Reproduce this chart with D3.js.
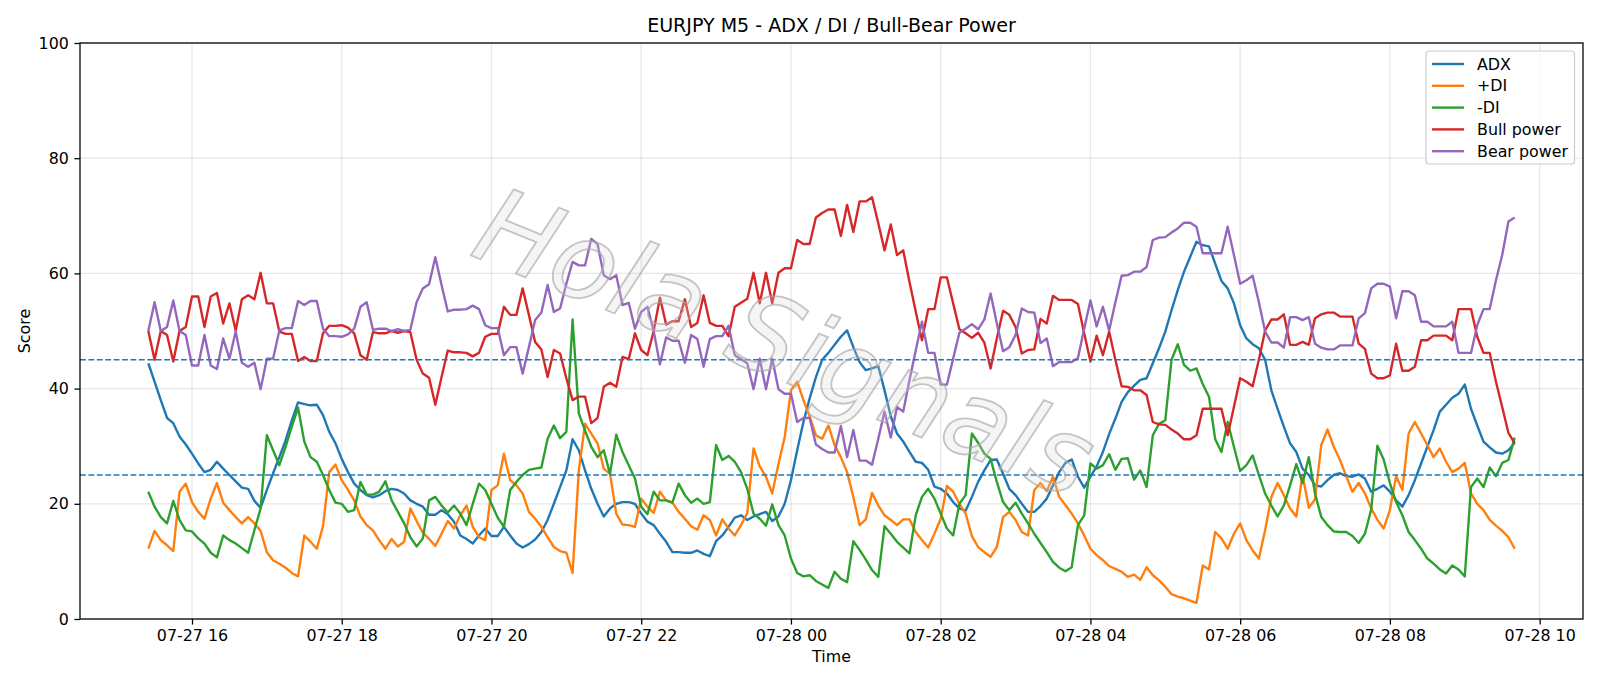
<!DOCTYPE html>
<html>
<head>
<meta charset="utf-8">
<script src="https://cdn.jsdelivr.net/npm/d3@7"></script>
<style>
  html, body { margin: 0; padding: 0; background: #ffffff; }
  svg { display: block; }
  text { font-family: "DejaVu Sans", sans-serif; fill: #000; }
</style>
</head>
<body>
<svg id="chart" width="1600" height="686"></svg>
<script>
// ---------------- DATA ----------------
const titleText = "EURJPY M5 - ADX / DI / Bull-Bear Power";
const xLabel = "Time";
const yLabel = "Score";
const watermarkText = "Hola Signals";
const startTime = Date.UTC(2023, 6, 27, 15, 25);   // first bar 07-27 15:25
const stepMinutes = 5;                               // M5 bars
const yTicks = [0, 20, 40, 60, 80, 100];
const thresholds = [45, 25];
const seriesNames = ["ADX", "+DI", "-DI", "Bull power", "Bear power"];
const seriesColors = ["#1f77b4", "#ff7f0e", "#2ca02c", "#d62728", "#9467bd"];

const adx = [
  44.4, 41.2, 38, 34.9, 34, 31.7, 30.3, 28.7, 27, 25.5, 25.9, 27.3, 26.1, 25, 23.9, 22.8, 22.6, 20.5, 19.3, 22.4,
  25.3, 28.1, 31, 34.5, 37.6, 37.3, 37.1, 37.2, 35.4, 32.5, 30.5, 27.8, 25.5, 23.5, 22.4, 21.5, 21.1, 21.5, 22.2,
  22.6, 22.4, 21.8, 20.6, 20, 19.5, 18.1, 18.1, 18.9, 18.2, 16.9, 14.5, 13.9, 13.1, 14.5, 15.7, 14.4, 14.4, 16, 14.5,
  13.1, 12.4, 13, 13.8, 15.1, 17.2, 20, 22.9, 25.8, 31.2, 29.3, 25.8, 22.6, 20, 17.8, 19.2, 20, 20.3, 20.3, 20, 18.3,
  16.9, 16.3, 14.8, 13.4, 11.6, 11.6, 11.5, 11.5, 11.9, 11.3, 10.9, 13.5, 14.5, 16, 17.6, 18, 17.2, 17.8, 18.2, 18.6,
  17, 17.8, 20, 24.1, 29.3, 34.2, 38.3, 42, 45, 46.2, 47.6, 49, 50.1, 47.2, 44.6, 43.2, 43.5, 43.9, 39.7, 35.2,
  32.2, 30.8, 29, 27.3, 27.1, 25.9, 23, 22.6, 21.8, 20.3, 19.2, 18.8, 21.2, 23.8, 25.8, 27.6, 27.7, 25.2, 22.6, 21.5,
  20, 18.6, 18.6, 19.6, 20.9, 23.2, 25.5, 27.1, 27.7, 24.7, 22.8, 24.7, 26.5, 29, 32.1, 34.8, 37.7, 39.4, 40.5, 41.5,
  41.8, 44.4, 47, 49.9, 53.6, 57.1, 60.3, 62.9, 65.5, 64.9, 64.7, 61.7, 58.7, 57.4, 54.8, 51, 48.7, 47.7, 47, 45,
  39.7, 36.5, 33.4, 30.5, 29, 26.1, 25, 23.2, 23, 24.1, 25, 25.3, 24.8, 24.7, 25.1, 24.4, 22.1, 22.6, 23.2, 22.1,
  20.6, 19.5, 21.5, 24.1, 27, 29.9, 32.8, 36, 37.2, 38.4, 39.1, 40.7, 36.5, 33.6, 30.8, 29.8, 28.9, 28.7, 29.3, 30.6
];

const plusDI = [
  12.2, 15.3, 13.7, 12.8, 11.8, 22.1, 23.5, 20.3, 18.6, 17.4, 20.9, 23.6, 20.2, 18.9, 17.7, 16.6, 17.7, 16.6, 15.3, 11.6,
  10.2, 9.6, 8.9, 8, 7.4, 14.5, 13.4, 12.2, 16.1, 25.5, 26.8, 24.1, 22.4, 20.6, 17.8, 16.3, 15.4, 13.7, 12.2,
  13.9, 12.6, 13.4, 19.2, 17, 15, 13.9, 12.7, 14.8, 17, 15.7, 18, 19.7, 16, 14.2, 13.7, 22.4, 23.2, 28.7, 24.1,
  23.2, 21.8, 18.6, 17.4, 16, 14.2, 12.5, 11.8, 11.5, 8, 25.8, 33.9, 32.2, 30.5, 26.1, 25.2, 18.3, 16.4, 16.3, 16, 20.9,
  19.5, 18.4, 22.1, 20.6, 20.2, 18.6, 17.4, 16.1, 15.5, 18, 17.2, 14.5, 17.3, 15.7, 14.5, 16.3, 18.4, 29.6, 26.5, 24.7,
  21.8, 26.9, 31.6, 39.7, 41.2, 38, 35.2, 31.9, 31.3, 33.6, 30.2, 28.1, 25.5, 21.2, 16.3, 17.3, 21.9, 19.7, 18, 17.2,
  16.3, 17.3, 17.3, 15.1, 13.7, 12.4, 14.8, 17.4, 23.1, 22.1, 20, 18.3, 14.4, 12.5, 11.6, 10.8, 12.5, 17.7, 18.6, 17.2,
  15.1, 14.5, 22.4, 23.6, 22.2, 24.7, 21.2, 19.8, 18.3, 16.6, 14.5, 12.2, 11.1, 10.2, 9.2, 8.7, 8.2, 7.3, 7.7, 6.8,
  9, 7.6, 6.7, 5.6, 4.3, 3.9, 3.6, 3.2, 2.8, 9.3, 8.6, 15.1, 14, 12.2, 14.8, 16.6, 13.7, 11.9, 10.5, 15.4,
  21.2, 23.6, 21.5, 19.2, 17.8, 25, 19.3, 20.8, 30.2, 32.9, 29.9, 27.6, 24.8, 22.1, 23.6, 21.8, 19.2, 17.2, 15.7, 18.9,
  24.8, 22.4, 32.2, 34.2, 32.2, 30.2, 28.1, 29.6, 27.3, 25.5, 26.1, 27.1, 21.8, 20, 18.9, 17.2, 16.2, 15.3, 14.2, 12.2
];

const minusDI = [
  22.1, 19.5, 17.7, 16.6, 20.5, 17.2, 15.4, 15.2, 14, 13.1, 11.5, 10.7, 14.5, 13.7, 13.1, 12.3, 11.5, 15.4, 19.2, 31.9,
  29.3, 26.7, 29.9, 33.4, 36.7, 30.8, 28.1, 27.3, 25, 22.4, 20.2, 20, 18.6, 18.9, 23.8, 21.6, 21.6, 22.1, 23.9,
  20.6, 18.6, 16.6, 14.2, 12.6, 14, 20.6, 21.2, 19.7, 18.5, 19.7, 18.3, 16.3, 20, 23.5, 22.4, 20, 17.6, 16, 22.4,
  23.8, 25, 25.9, 26.1, 26.3, 31.3, 33.6, 31.4, 32.5, 52, 35.7, 32.7, 29.9, 28.1, 29.3, 25.2, 32, 29, 26.7, 24.4, 19.5,
  18.2, 22.1, 20.6, 20.6, 20.2, 23.5, 21.5, 20.2, 20.9, 20, 20.3, 30.2, 27.6, 28.3, 27.3, 25.5, 22.6, 18.3, 17.4, 16.2,
  19.9, 16.3, 14.5, 10.5, 8, 7.4, 7.6, 6.6, 6, 5.4, 8.2, 7, 6.4, 13.5, 12, 10.3, 8.5, 7.3, 16.1, 14.8,
  13.4, 12.4, 11.4, 18, 21.2, 22.6, 20.9, 18.3, 15.7, 14.5, 20, 21.5, 32.2, 30.6, 28.7, 27.8, 23.8, 20.3, 18.9, 20.2,
  18.3, 16.6, 14.8, 13.2, 11.6, 9.9, 8.9, 8.3, 9, 16.3, 18, 27, 26.1, 26.7, 28.6, 25.9, 27.8, 27.9, 24.2, 25.8,
  22.9, 31.9, 33.9, 34.5, 45, 47.7, 44.1, 43.1, 43.5, 40.8, 38.6, 31.2, 29, 34.2, 29.9, 25.7, 26.7, 28.4, 25, 21.8,
  19.7, 17.8, 19.7, 23.2, 26.9, 23.6, 28.1, 21.8, 17.7, 16.3, 15.2, 15.1, 15.1, 14.4, 13.2, 14.8, 19, 30.1, 27.7, 23.6,
  20.3, 18, 15.1, 13.7, 12.2, 10.5, 9.6, 8.6, 7.9, 9.3, 8.6, 7.4, 22.9, 24.4, 22.9, 26.3, 24.8, 27.1, 27.6, 31.5
];

const bullPower = [
  50, 45, 50, 49.3, 44.7, 50, 50.7, 56, 56, 50.7, 56, 56.6, 51.3, 54.8, 50.1, 55.5, 56.2, 55.5, 60.1, 54.8,
  54.8, 49.9, 49.5, 49.5, 44.8, 45.5, 44.8, 44.8, 49.6, 50.9, 50.9, 51, 50.6, 49.6, 45.8, 45, 49.8, 49.6, 49.6,
  50, 49.7, 50, 49.8, 45, 42.6, 41.9, 37.2, 42, 46.6, 46.3, 46.3, 46.2, 45.6, 46.2, 49, 49.5, 49.5, 54.2, 52.8,
  52.8, 57.4, 52.8, 48.1, 46.8, 42, 46.7, 46.1, 41.8, 38, 38.6, 38.6, 34, 34.9, 40.3, 41, 40.3, 45.5, 45.1, 49.6, 46.7,
  45.8, 50, 55.8, 51.1, 51.7, 51.7, 55.5, 50.7, 51.4, 56.2, 51.4, 50.9, 50.9, 49.1, 54.2, 54.9, 55.6, 60.1, 54.8, 60.1,
  54.8, 60.1, 60.9, 60.9, 65.8, 65.1, 65.1, 69.7, 70.5, 71.1, 71.1, 66.5, 71.9, 67.2, 72.5, 72.5, 73.2, 68.7, 64, 68.5,
  63.2, 64, 58.5, 53.4, 48.4, 53.8, 53.8, 59.3, 59.3, 54.8, 50.3, 49.6, 48.8, 49.7, 48, 43.5, 48.7, 53.5, 52.8, 50.7,
  46.1, 46.7, 46.8, 52.1, 51.3, 56.1, 55.4, 55.4, 55.4, 54.7, 49.6, 44.7, 49.2, 45.8, 49.9, 45, 40.4, 40.3, 39.7, 39.7,
  38.9, 34.2, 33.8, 33.7, 32.9, 32.2, 31.2, 31.2, 31.9, 36.5, 36.5, 36.5, 36.5, 31.9, 36.8, 41.8, 41.2, 40.4, 45, 50.1,
  52, 52, 52.9, 47.6, 47.6, 48.1, 47.6, 52.2, 52.9, 53.2, 53.2, 52.5, 52.5, 52.5, 47.8, 46.9, 42.6, 41.8, 41.8, 42.3,
  47.8, 43.1, 43.1, 43.8, 48.4, 48.4, 49.2, 49.2, 49.2, 48.4, 53.8, 53.8, 53.8, 49, 46.2, 46.2, 41.2, 36.8, 32.3, 30.5
];

const bearPower = [
  50, 55, 50, 50.7, 55.3, 50, 49.3, 44, 44, 49.3, 44, 43.4, 48.7, 45.2, 49.9, 44.5, 43.8, 44.5, 39.9, 45.2,
  45.2, 50.1, 50.5, 50.5, 55.2, 54.5, 55.2, 55.2, 50.4, 49.1, 49.1, 49, 49.4, 50.4, 54.2, 55, 50.2, 50.4, 50.4,
  50, 50.3, 50, 50.2, 55, 57.4, 58.1, 62.8, 58, 53.4, 53.7, 53.7, 53.8, 54.4, 53.8, 51, 50.5, 50.5, 45.8, 47.2,
  47.2, 42.6, 47.2, 51.9, 53.2, 58, 53.3, 53.9, 58.2, 62, 61.4, 61.4, 66, 65.1, 59.7, 59, 59.7, 54.5, 54.9, 50.4, 53.3,
  54.2, 50, 44.2, 48.9, 48.3, 48.3, 44.5, 49.3, 48.6, 43.8, 48.6, 49.1, 49.1, 50.9, 45.8, 45.1, 44.4, 39.9, 45.2, 39.9,
  45.2, 39.9, 39.1, 39.1, 34.2, 34.9, 34.9, 30.3, 29.5, 28.9, 28.9, 33.5, 28.1, 32.8, 27.5, 27.5, 26.8, 31.3, 36, 31.5,
  36.8, 36, 41.5, 46.6, 51.6, 46.2, 46.2, 40.7, 40.7, 45.2, 49.7, 50.4, 51.2, 50.3, 52, 56.5, 51.3, 46.5, 47.2, 49.3,
  53.9, 53.3, 53.2, 47.9, 48.7, 43.9, 44.6, 44.6, 44.6, 45.3, 50.4, 55.3, 50.8, 54.2, 50.1, 55, 59.6, 59.7, 60.3, 60.3,
  61.1, 65.8, 66.2, 66.3, 67.1, 67.8, 68.8, 68.8, 68.1, 63.5, 63.5, 63.5, 63.5, 68.1, 63.2, 58.2, 58.8, 59.6, 55, 49.9,
  48, 48, 47.1, 52.4, 52.4, 51.9, 52.4, 47.8, 47.1, 46.8, 46.8, 47.5, 47.5, 47.5, 52.2, 53.1, 57.4, 58.2, 58.2, 57.7,
  52.2, 56.9, 56.9, 56.2, 51.6, 51.6, 50.8, 50.8, 50.8, 51.6, 46.2, 46.2, 46.2, 51, 53.8, 53.8, 58.8, 63.2, 69, 69.7
];

// ---------------- LAYOUT ----------------
const W = 1600, H = 686;
const plot = { left: 80, right: 1583, top: 43, bottom: 619 };
const PT = 114.29 / 72;              // px per point (figure dpi ~114)
const fs = 10 * PT;                  // 10pt text
const svg = d3.select("#chart");

const series = [adx, plusDI, minusDI, bullPower, bearPower];
const times = adx.map((_, i) => new Date(startTime + i * stepMinutes * 60000));

const t0 = +times[0], t1 = +times[times.length - 1];
const pad = (t1 - t0) * 0.05;
const x = d3.scaleUtc().domain([new Date(t0 - pad), new Date(t1 + pad)]).range([plot.left, plot.right]);
const y = d3.scaleLinear().domain([0, 100]).range([plot.bottom, plot.top]);

const xTickVals = d3.utcHour.every(2).range(x.domain()[0], x.domain()[1]);
const fmt = d3.utcFormat("%m-%d %H");

// grid
const grid = svg.append("g");
grid.selectAll(".gx").data(xTickVals).join("line")
  .attr("x1", d => x(d)).attr("x2", d => x(d))
  .attr("y1", plot.top).attr("y2", plot.bottom)
  .attr("stroke", "#b0b0b0").attr("stroke-opacity", 0.3).attr("stroke-width", 0.8 * PT);
grid.selectAll(".gy").data(yTicks).join("line")
  .attr("x1", plot.left).attr("x2", plot.right)
  .attr("y1", d => y(d)).attr("y2", d => y(d))
  .attr("stroke", "#b0b0b0").attr("stroke-opacity", 0.3).attr("stroke-width", 0.8 * PT);

// series lines
const line = d3.line().x((d, i) => x(times[i])).y(d => y(d));
const linesG = svg.append("g");
series.forEach((s, k) => {
  linesG.append("path").datum(s)
    .attr("d", line)
    .attr("fill", "none")
    .attr("stroke", seriesColors[k])
    .attr("stroke-width", 1.5 * PT)
    .attr("stroke-linejoin", "round")
    .attr("stroke-linecap", "butt");
});

// threshold dashed lines
svg.append("g").selectAll("line").data(thresholds).join("line")
  .attr("x1", plot.left).attr("x2", plot.right)
  .attr("y1", d => y(d)).attr("y2", d => y(d))
  .attr("stroke", "#1f77b4").attr("stroke-width", 1 * PT)
  .attr("stroke-dasharray", `${3.7 * PT},${1.6 * PT}`);

// watermark
svg.append("text")
  .attr("transform", "translate(782,350) rotate(22)")
  .attr("text-anchor", "middle")
  .attr("dominant-baseline", "middle")
  .style("font-family", "'DejaVu Sans', sans-serif")
  .style("font-style", "italic")
  .style("font-size", "106px")
  .style("fill", "#d8d8d8")
  .style("fill-opacity", 0.25)
  .style("stroke", "#a8a8a8")
  .style("stroke-width", "1.8px")
  .style("stroke-opacity", 0.65)
  .text(watermarkText);

// axes frame
svg.append("rect")
  .attr("x", plot.left).attr("y", plot.top)
  .attr("width", plot.right - plot.left).attr("height", plot.bottom - plot.top)
  .attr("fill", "none").attr("stroke", "#000").attr("stroke-width", 0.8 * PT);

// x axis
const xAxis = d3.axisBottom(x).tickValues(xTickVals).tickFormat(fmt)
  .tickSize(3.5 * PT).tickPadding(3.5 * PT);
const gx = svg.append("g").attr("transform", `translate(0,${plot.bottom})`).call(xAxis);
gx.select(".domain").remove();
gx.selectAll("line").attr("stroke", "#000").attr("stroke-width", 0.8 * PT);
gx.selectAll("text").style("font-size", fs + "px").style("font-family", "'DejaVu Sans', sans-serif").attr("fill", "#000");

// y axis
const yAxis = d3.axisLeft(y).tickValues(yTicks).tickFormat(d3.format("d"))
  .tickSize(3.5 * PT).tickPadding(3.5 * PT);
const gy = svg.append("g").attr("transform", `translate(${plot.left},0)`).call(yAxis);
gy.select(".domain").remove();
gy.selectAll("line").attr("stroke", "#000").attr("stroke-width", 0.8 * PT);
gy.selectAll("text").style("font-size", fs + "px").style("font-family", "'DejaVu Sans', sans-serif").attr("fill", "#000");

// labels
svg.append("text").attr("x", (plot.left + plot.right) / 2).attr("y", 32)
  .attr("text-anchor", "middle").style("font-size", (12 * PT) + "px").text(titleText);
svg.append("text").attr("x", (plot.left + plot.right) / 2).attr("y", 662)
  .attr("text-anchor", "middle").style("font-size", fs + "px").text(xLabel);
svg.append("text").attr("transform", `translate(30,${(plot.top + plot.bottom) / 2}) rotate(-90)`)
  .attr("text-anchor", "middle").style("font-size", fs + "px").text(yLabel);

// legend
const lg = { x: 1426, y: 51, w: 148.5, h: 113, row: 21.8, first: 64 };
const legend = svg.append("g");
legend.append("rect")
  .attr("x", lg.x).attr("y", lg.y).attr("width", lg.w).attr("height", lg.h)
  .attr("rx", 3).attr("ry", 3)
  .attr("fill", "#ffffff").attr("fill-opacity", 0.8)
  .attr("stroke", "#cccccc").attr("stroke-width", 1.2);
seriesNames.forEach((name, k) => {
  const cy = lg.first + k * lg.row;
  legend.append("line")
    .attr("x1", lg.x + 6).attr("x2", lg.x + 38)
    .attr("y1", cy).attr("y2", cy)
    .attr("stroke", seriesColors[k]).attr("stroke-width", 1.5 * PT);
  legend.append("text")
    .attr("x", lg.x + 51).attr("y", cy + 5.6)
    .style("font-size", fs + "px").text(name);
});
</script>
</body>
</html>
